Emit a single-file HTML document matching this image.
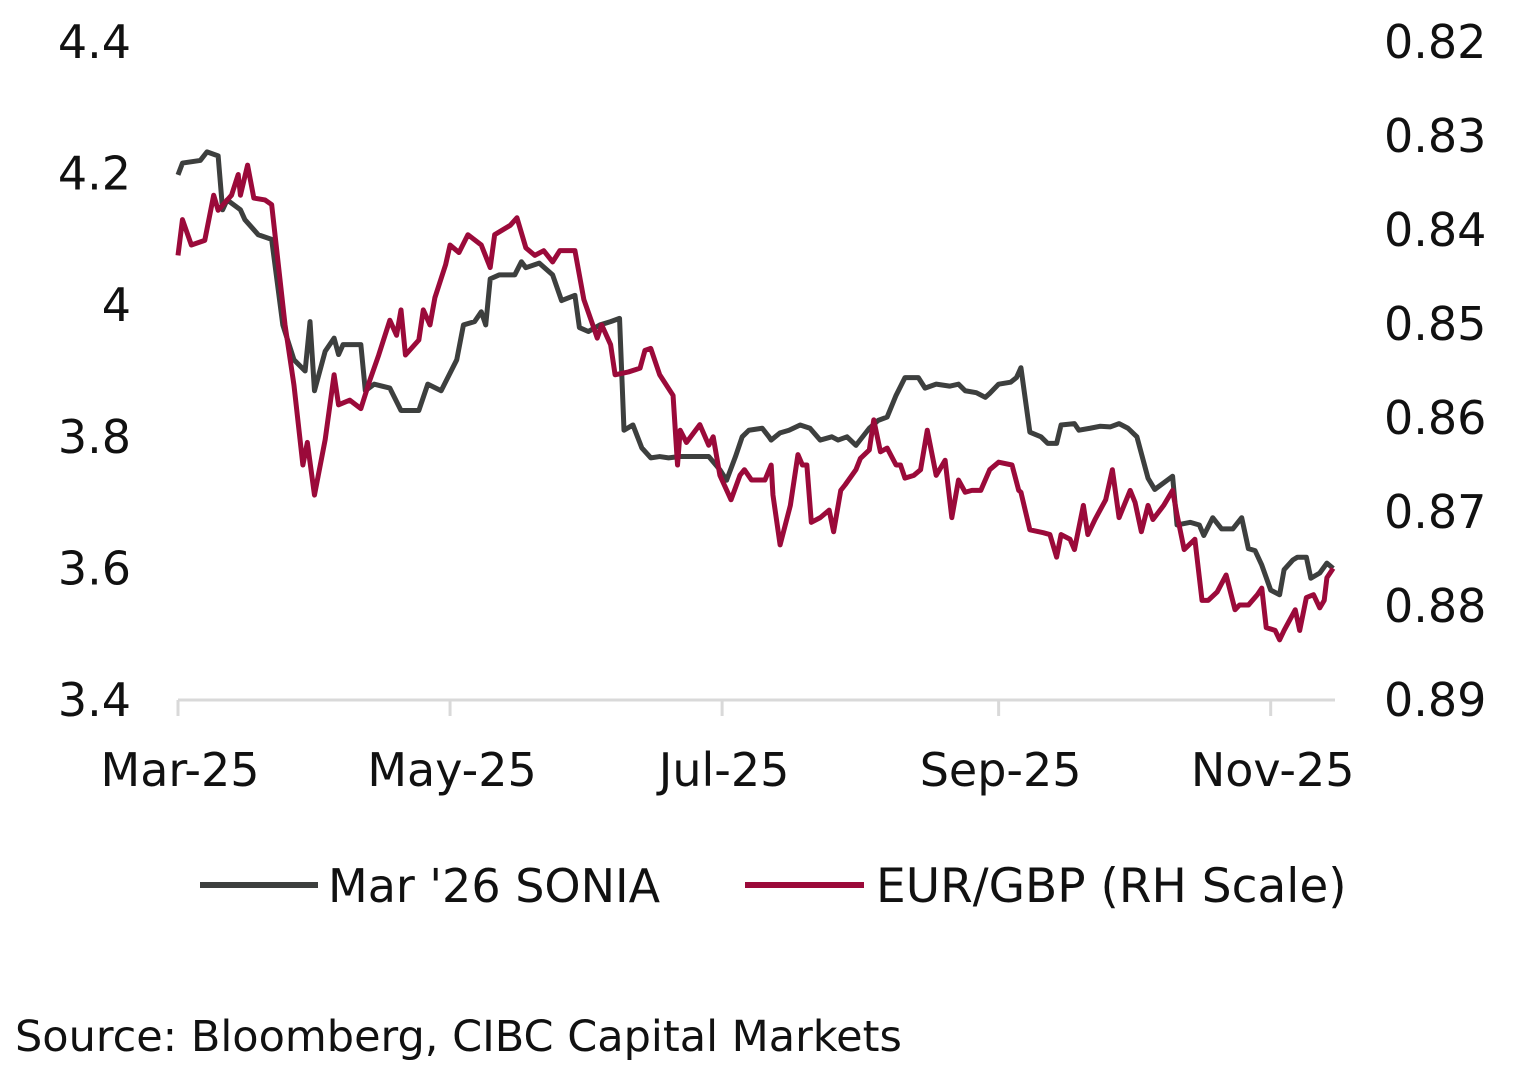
<!DOCTYPE html>
<html><head><meta charset="utf-8"><style>
html,body{margin:0;padding:0;background:#fff;}
svg{display:block;}
text{font-family:"DejaVu Sans","Liberation Sans",sans-serif;fill:#111;}
</style></head><body>
<svg id="chart" width="1516" height="1072" viewBox="0 0 1516 1072" xmlns="http://www.w3.org/2000/svg">
<g id="axes"></g>
<g id="series"></g>
<g>
<line x1="200" y1="885" x2="318" y2="885" stroke="#3d3f3e" stroke-width="6"/>
<text x="328" y="902" font-size="46">Mar '26 SONIA</text>
<line x1="745" y1="885" x2="864" y2="885" stroke="#9b0a3a" stroke-width="6"/>
<text x="876" y="902" font-size="47">EUR/GBP (RH Scale)</text>
</g>
<text x="15" y="1051" font-size="43">Source: Bloomberg, CIBC Capital Markets</text>
</svg>
<script>
const leftTicks=[4.4,4.2,4,3.8,3.6,3.4];
const leftTickLabels=["4.4","4.2","4","3.8","3.6","3.4"];
const rightTicks=[0.82,0.83,0.84,0.85,0.86,0.87,0.88,0.89];
const rightTickLabels=["0.82","0.83","0.84","0.85","0.86","0.87","0.88","0.89"];
const monthDays=[0,61,122,184,245];
const monthLabels=["Mar-25","May-25","Jul-25","Sep-25","Nov-25"];
const soniaDays=[0,1,5,6.5,9,10,11,14,15,18,21,23.5,26,28.5,29.6,30.6,33,35,36,37,41,42,44,47.5,50,54,56,59,62.5,64,66.5,68,69,70,72,75.5,77,78,81,84,86,89,90,92,94.6,97,99,100,102,104,106,108,110,112.5,115,117,119,121.5,123,125,126.5,128,131,132.5,133,135,137,139.5,141.7,144,146.6,148,150,152,155,157,159,161,163,166,167.5,170,173,175,176.5,179,181,182,184,186.7,188,189,191,193.5,195,197,198,201,202,204.5,206.7,209,211,213,215,217.5,219,221,223,224,227,229,230,232,234,236.5,238.5,240,241.5,243,245,247,248,250,251,253,254,256,257.6,259];
const soniaValues=[4.198,4.216,4.22,4.233,4.227,4.145,4.16,4.145,4.13,4.107,4.10,3.97,3.917,3.90,3.975,3.87,3.93,3.95,3.925,3.94,3.94,3.87,3.88,3.874,3.84,3.84,3.88,3.87,3.917,3.97,3.975,3.99,3.97,4.04,4.046,4.046,4.066,4.057,4.064,4.046,4.007,4.015,3.966,3.96,3.97,3.975,3.98,3.81,3.818,3.783,3.768,3.77,3.768,3.77,3.77,3.77,3.77,3.75,3.734,3.77,3.80,3.81,3.813,3.80,3.795,3.806,3.81,3.818,3.813,3.795,3.80,3.795,3.80,3.787,3.813,3.825,3.83,3.863,3.89,3.89,3.874,3.88,3.877,3.88,3.87,3.867,3.86,3.866,3.88,3.883,3.89,3.905,3.807,3.80,3.79,3.79,3.818,3.82,3.81,3.813,3.816,3.815,3.82,3.813,3.80,3.737,3.72,3.73,3.74,3.666,3.67,3.666,3.65,3.677,3.66,3.66,3.677,3.63,3.627,3.605,3.567,3.56,3.598,3.613,3.617,3.617,3.585,3.593,3.608,3.60];
const fxDays=[0,1,3,6,8,9,12,13.5,14,15.6,17,19.5,21,24,26,28,29,30.6,33,35,36,38.5,41,43,45,47.5,49,50,51,54,55,56.5,57.6,60,61,63,65,68,70,71,74.5,76,78,80,82,84,85.6,89,91,93,94,95,97,98,101,103.6,104.7,106,108,111,112,112.6,114,117,119,120,121.5,124,126,127,128.6,131.6,133,133.4,135,137.3,139,140,141,142,144,146,147,148.6,149.6,152,153,155,156,157.5,159,161,162,163,165,166.5,168,170,172,173.5,175,176.5,178,180,182,184,187,188.5,189,191,194,195.5,197,198,200,201,203,204,205.6,208,209.5,211,213.5,214.6,216,217.5,218.6,221,223,224,225.6,228,229.6,231,233,235,237,238,240,242,243,244,246,247,248,250.5,251.5,253,254.6,256,257,257.6,259];
const fxValues=[0.8427,0.8389,0.8416,0.8411,0.8363,0.8379,0.8363,0.8341,0.8363,0.8331,0.8366,0.8368,0.8373,0.8501,0.8565,0.865,0.8626,0.8682,0.8623,0.8554,0.8586,0.8581,0.859,0.856,0.8533,0.8496,0.8512,0.8485,0.8533,0.8517,0.8485,0.8501,0.8472,0.8437,0.8416,0.8424,0.8405,0.8416,0.844,0.8405,0.8395,0.8387,0.8419,0.8427,0.8422,0.8434,0.8422,0.8422,0.8474,0.8501,0.8515,0.8501,0.8522,0.8554,0.8551,0.8547,0.8528,0.8526,0.8554,0.8576,0.865,0.8613,0.8626,0.8607,0.8629,0.862,0.8661,0.8687,0.8661,0.8655,0.8666,0.8666,0.865,0.8682,0.8735,0.8693,0.8639,0.865,0.865,0.8711,0.8706,0.8698,0.8721,0.8677,0.8671,0.8655,0.8643,0.8634,0.8602,0.8636,0.8632,0.865,0.865,0.8664,0.8661,0.8655,0.8613,0.8661,0.8645,0.8706,0.8666,0.8679,0.8677,0.8677,0.8655,0.8647,0.865,0.8677,0.8679,0.8719,0.8722,0.8724,0.8748,0.8724,0.8729,0.874,0.8693,0.8724,0.8708,0.8687,0.8655,0.8706,0.8677,0.869,0.8721,0.8693,0.8708,0.8693,0.8677,0.8703,0.874,0.8729,0.8794,0.8794,0.8785,0.8767,0.8804,0.8799,0.8799,0.8788,0.8781,0.8823,0.8826,0.8836,0.8826,0.8804,0.8826,0.8791,0.8788,0.8802,0.8794,0.877,0.876];

const NS="http://www.w3.org/2000/svg";
const X0=178,PXDAY=4.46,Y0=42,Y1=700;
function xScale(d){return X0+d*PXDAY;}
function yLeft(v){return Y0+(4.4-v)/(4.4-3.4)*(Y1-Y0);}
function yRight(v){return Y0+(v-0.82)/(0.89-0.82)*(Y1-Y0);}
function mk(tag,attrs,parent){const e=document.createElementNS(NS,tag);for(const k in attrs)e.setAttribute(k,attrs[k]);parent.appendChild(e);return e;}
const axes=document.getElementById('axes');
const ser=document.getElementById('series');
let ax=mk('line',{x1:X0,y1:Y1,x2:1335,y2:Y1,stroke:'#d9d9d9','stroke-width':3},axes);


monthDays.forEach((d,i)=>{
  const t=mk('line',{x1:xScale(d),y1:Y1,x2:xScale(d),y2:Y1+16,stroke:'#d9d9d9','stroke-width':3},axes);
  
  
  const l=mk('text',{x:xScale(d)+2,y:786,'font-size':46,'text-anchor':'middle'},axes);
  l.textContent=monthLabels[i];
  
  
});
leftTicks.forEach((v,i)=>{
  const l=mk('text',{x:131,y:yLeft(v)+16,'font-size':46,'text-anchor':'end'},axes);
  l.textContent=leftTickLabels[i];
  
  
});
rightTicks.forEach((v,i)=>{
  const l=mk('text',{x:1384,y:yRight(v)+16,'font-size':46,'text-anchor':'start'},axes);
  l.textContent=rightTickLabels[i];
  
  
});
const p1=mk('polyline',{points:soniaDays.map((d,i)=>xScale(d)+','+yLeft(soniaValues[i])).join(' '),fill:'none',stroke:'#3d3f3e','stroke-width':5,'stroke-linejoin':'round'},ser);


const p2=mk('polyline',{points:fxDays.map((d,i)=>xScale(d)+','+yRight(fxValues[i])).join(' '),fill:'none',stroke:'#9b0a3a','stroke-width':5,'stroke-linejoin':'round'},ser);


</script>
</body></html>
